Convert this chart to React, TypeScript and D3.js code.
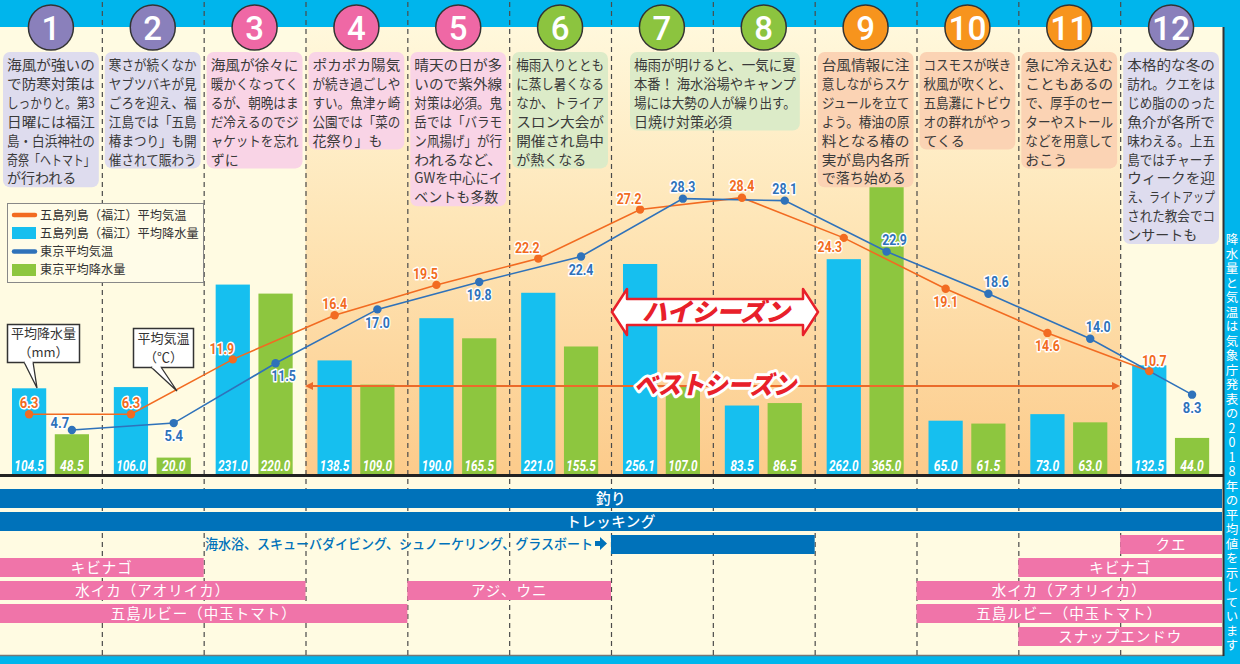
import React from 'react';
import * as d3 from 'd3';

const months = ['1', '2', '3', '4', '5', '6', '7', '8', '9', '10', '11', '12'];
const gotoRain = [104.5, 106.0, 231.0, 138.5, 190.0, 221.0, 256.1, 83.5, 262.0, 65.0, 73.0, 132.5];
const tokyoRain = [48.5, 20.0, 220.0, 109.0, 165.5, 155.5, 107.0, 86.5, 365.0, 61.5, 63.0, 44.0];
const gotoTemp = [6.3, 6.3, 11.9, 16.4, 19.5, 22.2, 27.2, 28.4, 24.3, 19.1, 14.6, 10.7];
const tokyoTemp = [4.7, 5.4, 11.5, 17.0, 19.8, 22.4, 28.3, 28.1, 22.9, 18.6, 14.0, 8.3];
const gotoLabelPlace = ['above', 'above', 'upleft', 'above', 'upleft', 'upleft', 'upleft', 'above', 'downleft', 'below', 'below', 'aboveR'];
const tokyoLabelPlace = ['left', 'below', 'downright', 'below', 'below', 'below', 'above', 'above', 'upright', 'upright', 'upright', 'below'];
const monthSeason = ['w', 'w', 'sp', 'sp', 'sp', 'su', 'su', 'su', 'au', 'au', 'au', 'w'];
const legendLabels = ['五島列島（福江）平均気温', '五島列島（福江）平均降水量', '東京平均気温', '東京平均降水量'];

const notes = [
  { from: 0, to: 0, lines: ['海風が強いの', 'で防寒対策は', 'しっかりと。第3', '日曜には福江', '島・白浜神社の', '奇祭「ヘトマト」', 'が行われる'] },
  { from: 1, to: 1, lines: ['寒さが続くなか', 'ヤブツバキが見', 'ごろを迎え、福', '江島では「五島', '椿まつり」も開', '催されて賑わう'] },
  { from: 2, to: 2, lines: ['海風が徐々に', '暖かくなってく', 'るが、朝晩はま', 'だ冷えるのでジ', 'ャケットを忘れ', 'ずに'] },
  { from: 3, to: 3, lines: ['ポカポカ陽気', 'が続き過ごしや', 'すい。魚津ヶ崎', '公園では「菜の', '花祭り」も'] },
  { from: 4, to: 4, lines: ['晴天の日が多', 'いので紫外線', '対策は必須。鬼', '岳では「バラモ', 'ン凧揚げ」が行', 'われるなど、', 'GWを中心にイ', 'ベントも多数'] },
  { from: 5, to: 5, lines: ['梅雨入りととも', 'に蒸し暑くなる', 'なか、トライア', 'スロン大会が', '開催され島中', 'が熱くなる'] },
  { from: 6, to: 7, lines: ['梅雨が明けると、一気に夏', '本番！ 海水浴場やキャンプ', '場には大勢の人が繰り出す。', '日焼け対策必須'] },
  { from: 8, to: 8, lines: ['台風情報に注', '意しながらスケ', 'ジュールを立て', 'よう。椿油の原', '料となる椿の', '実が島内各所', 'で落ち始める'] },
  { from: 9, to: 9, lines: ['コスモスが咲き', '秋風が吹くと、', '五島灘にトビウ', 'オの群れがやっ', 'てくる'] },
  { from: 10, to: 10, lines: ['急に冷え込む', 'こともあるの', 'で、厚手のセー', 'ターやストール', 'などを用意して', 'おこう'] },
  { from: 11, to: 11, lines: ['本格的な冬の', '訪れ。クエをは', 'じめ脂ののった', '魚介が各所で', '味わえる。上五', '島ではチャーチ', 'ウィークを迎', 'え、ライトアップ', 'された教会でコ', 'ンサートも'] },
];

const activities = [
  { row: 0, from: 0, to: 11, label: '釣り', kind: 'blue' },
  { row: 1, from: 0, to: 11, label: 'トレッキング', kind: 'blue' },
  { row: 2, from: 6, to: 7, label: '', kind: 'blue' },
  { row: 2, from: 11, to: 11, label: 'クエ', kind: 'pink' },
  { row: 3, from: 0, to: 1, label: 'キビナゴ', kind: 'pink' },
  { row: 3, from: 10, to: 11, label: 'キビナゴ', kind: 'pink' },
  { row: 4, from: 0, to: 2, label: '水イカ（アオリイカ）', kind: 'pink' },
  { row: 4, from: 4, to: 5, label: 'アジ、ウニ', kind: 'pink' },
  { row: 4, from: 9, to: 11, label: '水イカ（アオリイカ）', kind: 'pink' },
  { row: 5, from: 0, to: 3, label: '五島ルビー（中玉トマト）', kind: 'pink' },
  { row: 5, from: 9, to: 11, label: '五島ルビー（中玉トマト）', kind: 'pink' },
  { row: 6, from: 10, to: 11, label: 'スナップエンドウ', kind: 'pink' },
];
const marineText = '海水浴、スキューバダイビング、シュノーケリング、グラスボート';
const sideNote = '降水量と気温は気象庁発表の2018年の平均値を示しています';

const circleColor: Record<string, string> = { w: '#8A80BB', sp: '#EF68A5', su: '#8CC43F', au: '#F7941D' };
const boxColor: Record<string, string> = { w: '#DEDCEE', sp: '#F9D4E6', su: '#DCEBC8', au: '#FBD3B4' };
const placeOff: Record<string, [number, number]> = {
  above: [0, -12], aboveR: [5, -11], below: [0, 13], upleft: [-11, -11], downleft: [-14, 9],
  downright: [8, 12], left: [-12, -7], upright: [8, -12],
};

const JP = "'Noto Sans CJK JP', 'Noto Sans', sans-serif";
const NUM = "Roboto, 'DejaVu Sans', sans-serif";
const CYAN = '#16BFEF';
const GREEN = '#8DC63F';
const ORANGE = '#F26B21';
const LBLUE = '#2F72BA';
const DBLUE = '#0072BA';
const PINK = '#F074A9';
const RED = '#E8202A';

const emWidth = (s: string) => Array.from(s).reduce((a, c) => a + (c.charCodeAt(0) < 128 ? 0.58 : 1), 0);

export default function App() {
  const x = d3.scaleBand<string>().domain(months).range([0, 1222]);
  const bw = x.bandwidth();
  const inner = d3.scaleBand<string>().domain(['goto', 'tokyo']).range([12, 89]).paddingInner(0.2);
  const ib = inner.bandwidth();
  const yR = d3.scaleLinear().domain([0, 400]).range([474, 146]);
  const yT = d3.scaleLinear().domain([0, 30]).range([476, 182]);
  const base = yR(0);

  const gx = (i: number) => (x(months[i]) as number) + (inner('goto') as number) + ib / 2;
  const tx = (i: number) => (x(months[i]) as number) + (inner('tokyo') as number) + ib / 2;
  const gPts: [number, number][] = gotoTemp.map((v, i) => [gx(i), yT(v)]);
  const tPts: [number, number][] = tokyoTemp.map((v, i) => [tx(i), yT(v)]);
  const line = d3.line();

  const lineStep = 18.9;
  const fs = 14;
  const legendY = [219.5, 237.8, 256.1, 274.4];

  return (
    <svg width={1240} height={664} style={{ position: 'absolute', left: 0, top: 0, display: 'block' }}>
      <defs>
        <linearGradient id="warm" x1="0" y1="0" x2="0" y2="1">
          <stop offset="0" stopColor="#FFF8DC" />
          <stop offset="0.45" stopColor="#FEE5B6" />
          <stop offset="1" stopColor="#FCCB8B" />
        </linearGradient>
      </defs>
      <rect x={0} y={0} width={1240} height={664} fill="#FFFBE2" />
      <rect x={x('4')} y={27} width={(x('12') as number) - (x('4') as number)} height={base - 27} fill="url(#warm)" />
      <rect x={0} y={0} width={1240} height={27} fill="#00B5EC" />
      <rect x={1224} y={0} width={16} height={664} fill="#00B5EC" />
      <rect x={0} y={656} width={1240} height={8} fill="#00B5EC" />
      <line x1={0} x2={1224} y1={655.5} y2={655.5} stroke="#777" strokeWidth={1.5} />
      <line x1={1223.5} x2={1223.5} y1={27} y2={656} stroke="#333" strokeWidth={2} />

      {months.slice(1).map((m) => (
        <line key={'d' + m} x1={(x(m) as number) + 0.5} x2={(x(m) as number) + 0.5} y1={2} y2={655}
          stroke="#4a4a4a" strokeWidth={1.2} strokeDasharray="5 4" />
      ))}

      {months.map((m, i) => (
        <g key={'c' + m}>
          <circle cx={(x(m) as number) + bw / 2} cy={27.5} r={22.5} fill={circleColor[monthSeason[i]]} stroke="#333" strokeWidth={1.5} />
          <text x={(x(m) as number) + bw / 2} y={39.5} textAnchor="middle" fill="#fff" fontFamily={NUM} fontWeight={500}
            fontSize={33} {...(m.length > 1 ? { textLength: 38, lengthAdjust: 'spacingAndGlyphs' } : {})}>{m}</text>
        </g>
      ))}

      {months.map((m, i) => {
        const x0 = x(m) as number;
        return (
          <g key={'b' + m}>
            <rect x={x0 + (inner('goto') as number)} y={yR(gotoRain[i])} width={ib} height={base - yR(gotoRain[i])} fill={CYAN} />
            <rect x={x0 + (inner('tokyo') as number)} y={yR(tokyoRain[i])} width={ib} height={base - yR(tokyoRain[i])} fill={GREEN} />
          </g>
        );
      })}

      {notes.map((n, k) => {
        const bx0 = n.from === n.to ? (x(months[n.from]) as number) + 3 : (x(months[n.from]) as number) + 19;
        const bx1 = n.from === n.to ? (x(months[n.to]) as number) + bw - 3 : (x(months[n.to]) as number) + 87;
        const h = n.lines.length * lineStep + 3;
        const iw = bx1 - bx0 - 8;
        return (
          <g key={'n' + k}>
            <rect x={bx0} y={52} width={bx1 - bx0} height={h} rx={7} fill={boxColor[monthSeason[n.from]]} />
            {n.lines.map((l, j) => {
              const fit = j < n.lines.length - 1 || emWidth(l) * fs > iw;
              return (
                <text key={j} x={bx0 + 4} y={70 + j * lineStep} fontFamily={JP} fontSize={fs} fill="#3a3a3a"
                  {...(fit ? { textLength: iw, lengthAdjust: 'spacingAndGlyphs' } : {})}>{l}</text>
              );
            })}
          </g>
        );
      })}

      <rect x={7.5} y={203.5} width={196} height={79} fill="#FFFCE8" stroke="#888" strokeWidth={1} />
      <line x1={14} x2={35} y1={215} y2={215} stroke={ORANGE} strokeWidth={4.5} strokeLinecap="round" />
      <rect x={12} y={227} width={24} height={12} fill={CYAN} />
      <line x1={14} x2={35} y1={251.5} y2={251.5} stroke={LBLUE} strokeWidth={4.5} strokeLinecap="round" />
      <rect x={12} y={264} width={24} height={12} fill={GREEN} />
      {legendLabels.map((t, i) => (
        <text key={'lg' + i} x={40} y={legendY[i]} fontFamily={JP} fontSize={12.5} fill="#333"
          textLength={t.length * 12.2} lengthAdjust="spacingAndGlyphs">{t}</text>
      ))}

      <line x1={310} x2={1114} y1={386} y2={386} stroke="#EB6A2A" strokeWidth={2} />
      <path d="M305,386 L313,382 L313,390 Z" fill="#EB6A2A" />
      <path d="M1120,386 L1112,382 L1112,390 Z" fill="#EB6A2A" />

      <path d={line(gPts) as string} fill="none" stroke={ORANGE} strokeWidth={1.6} />
      <path d={line(tPts) as string} fill="none" stroke={LBLUE} strokeWidth={1.6} />
      {gPts.map((p, i) => <circle key={'gp' + i} cx={p[0]} cy={p[1]} r={4.2} fill={ORANGE} />)}
      {tPts.map((p, i) => <circle key={'tp' + i} cx={p[0]} cy={p[1]} r={4.2} fill={LBLUE} />)}

      <rect x={7.5} y={324.5} width={72} height={38} fill="#fff" stroke="#333" strokeWidth={1.5} />
      <path d="M24,362 L37,388 L33,362" fill="#fff" stroke="#333" strokeWidth={1.3} />
      <rect x={24.8} y={360.6} width={7.6} height={2.6} fill="#fff" />
      <text x={43.5} y={338} textAnchor="middle" fontFamily={JP} fontSize={13} fill="#333">平均降水量</text>
      <text x={43.5} y={357} textAnchor="middle" fontFamily={JP} fontSize={13} fill="#333">（mm）</text>
      <rect x={133.5} y={328.5} width={60} height={39} fill="#fff" stroke="#333" strokeWidth={1.5} />
      <path d="M151,367 L177,391 L161,367" fill="#fff" stroke="#333" strokeWidth={1.3} />
      <rect x={152.5} y={365.6} width={7.6} height={2.6} fill="#fff" />
      <text x={163.5} y={342.5} textAnchor="middle" fontFamily={JP} fontSize={13} fill="#333">平均気温</text>
      <text x={163.5} y={361.5} textAnchor="middle" fontFamily={JP} fontSize={13} fill="#333">（℃）</text>

      {gPts.map((p, i) => {
        const o = placeOff[gotoLabelPlace[i]];
        const s = gotoTemp[i].toFixed(1);
        return (
          <text key={'gl' + i} x={p[0] + o[0]} y={p[1] + o[1]} dy="0.36em" textAnchor="middle" fontFamily={NUM}
            fontWeight={700} fontSize={15} fill={ORANGE} stroke="#fff" strokeWidth={3} paintOrder="stroke"
            strokeLinejoin="round" textLength={s.length * 6.2} lengthAdjust="spacingAndGlyphs">{s}</text>
        );
      })}
      {tPts.map((p, i) => {
        const o = placeOff[tokyoLabelPlace[i]];
        const s = tokyoTemp[i].toFixed(1);
        return (
          <text key={'tl' + i} x={p[0] + o[0]} y={p[1] + o[1]} dy="0.36em" textAnchor="middle" fontFamily={NUM}
            fontWeight={700} fontSize={15} fill={LBLUE} stroke="#fff" strokeWidth={3} paintOrder="stroke"
            strokeLinejoin="round" textLength={s.length * 6.2} lengthAdjust="spacingAndGlyphs">{s}</text>
        );
      })}

      <path d="M612,312 L627,289 L627,299 L803,299 L803,289 L818,312 L803,335 L803,325 L627,325 L627,335 Z"
        fill="#fff" stroke={RED} strokeWidth={2.5} strokeLinejoin="round" />
      <text x={716} y={321} textAnchor="middle" fontFamily={JP} fontWeight={900} fontSize={25} fontStyle="italic"
        fill={RED} textLength={148} lengthAdjust="spacingAndGlyphs">ハイシーズン</text>
      <text x={715} y={394} textAnchor="middle" fontFamily={JP} fontWeight={900} fontSize={25} fontStyle="italic"
        fill={RED} stroke="#fff" strokeWidth={6} paintOrder="stroke" strokeLinejoin="round"
        textLength={162} lengthAdjust="spacingAndGlyphs">ベストシーズン</text>

      {months.map((m, i) => {
        const x0 = x(m) as number;
        const a = gotoRain[i].toFixed(1);
        const b = tokyoRain[i].toFixed(1);
        return (
          <g key={'v' + m} fontFamily={NUM} fontWeight={700} fontStyle="italic" fontSize={14} fill="#fff">
            <text x={x0 + (inner('goto') as number) + ib / 2} y={471} textAnchor="middle" textLength={a.length * 5.9} lengthAdjust="spacingAndGlyphs">{a}</text>
            <text x={x0 + (inner('tokyo') as number) + ib / 2} y={471} textAnchor="middle" textLength={b.length * 5.9} lengthAdjust="spacingAndGlyphs">{b}</text>
          </g>
        );
      })}

      <rect x={0} y={474} width={1224} height={3} fill="#222" />

      {activities.map((a, k) => {
        const x0 = x(months[a.from]) as number;
        const x1 = a.to === 11 ? 1222 : (x(months[a.to]) as number) + bw;
        const y0 = 489 + a.row * 23;
        return (
          <g key={'a' + k}>
            <rect x={x0} y={y0} width={x1 - x0} height={19} fill={a.kind === 'blue' ? DBLUE : PINK} />
            {a.label && (
              <text x={(x0 + x1) / 2} y={y0 + 15} textAnchor="middle" fontFamily={JP} fontSize={14.5}
                fontWeight={a.kind === 'blue' ? 500 : 400} fill="#fff" letterSpacing={a.kind === 'pink' ? 1 : 0.5}>{a.label}</text>
            )}
          </g>
        );
      })}
      <text x={205} y={549} fontFamily={JP} fontSize={13.5} fontWeight={500} fill={DBLUE} textLength={388}
        lengthAdjust="spacingAndGlyphs">{marineText}</text>
      <path d="M595,541 L600,541 L600,537 L607,543.5 L600,550 L600,546 L595,546 Z" fill={DBLUE} />

      <text x={1232} y={233} fontFamily={JP} fontSize={12.5} fill="#fff" letterSpacing={2}
        style={{ writingMode: 'vertical-rl', textOrientation: 'upright' } as React.CSSProperties}>{sideNote}</text>
    </svg>
  );
}
